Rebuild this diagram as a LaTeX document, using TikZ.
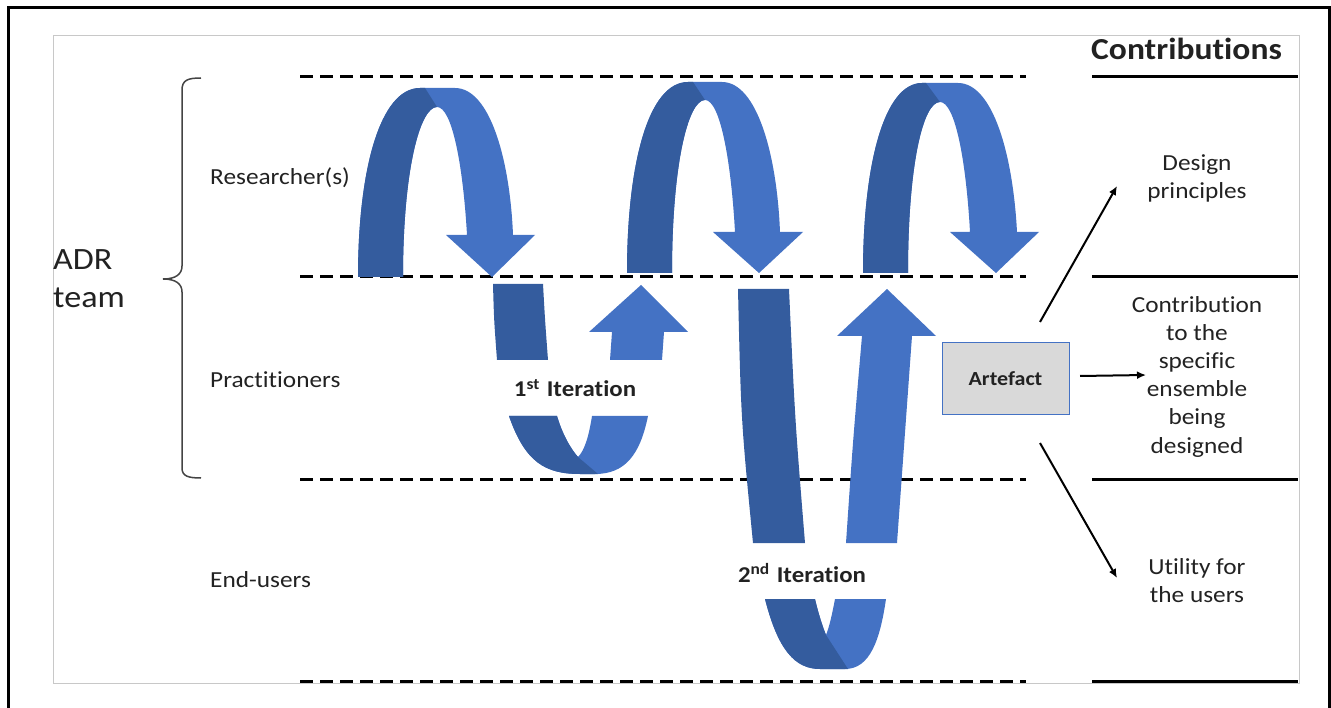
\documentclass[tikz,border=0pt]{standalone}
\usepackage{fontspec}
\setmainfont{Carlito}[FakeStretch=1.1, Ligatures=NoCommon]
\usetikzlibrary{arrows.meta}
\definecolor{ribbonDark}{HTML}{345C9E}
\definecolor{ribbonLight}{HTML}{4472C4}
\definecolor{ink}{HTML}{222222}
\definecolor{frameGray}{HTML}{C8C8C8}
\definecolor{boxFill}{HTML}{D9D9D9}
\definecolor{braceGray}{HTML}{444444}

\begin{document}
\begin{tikzpicture}[x=1pt,y=-1pt,
  lane/.style={line width=3pt, dash pattern=on 13pt off 7pt},
  rule/.style={line width=3pt},
  lightband/.style={fill=ribbonLight},
  darkband/.style={fill=ribbonDark},
  rolelabel/.style={text=ink, inner sep=0pt, anchor=west, font=\fontsize{23}{27}\selectfont},
  outcome/.style={text=ink, inner sep=0pt, align=center, font=\fontsize{23}{28.2}\selectfont},
  iterlabel/.style={text=ink, inner sep=0pt, font=\bfseries\fontsize{22.6}{26}\selectfont},
  pointer/.style={line width=2pt, -{Latex[length=9pt,width=8pt]}}
]
\useasboundingbox (0,0) rectangle (1331,708);

% outer frame (open at the bottom) and inner panel
\draw[line width=3pt] (8,712) -- (8,8) -- (1329,8) -- (1329,712);
\draw[frameGray, line width=1pt] (53,36) rectangle (1299,683);

% swim-lane separators
\foreach \y in {77,277,479,681} {
  \draw[lane] (300,\y) -- (1026,\y);
  \draw[rule] (1092,\y) -- (1298,\y);
}

% brace grouping the ADR team
\draw[braceGray, line width=1.5pt]
  (201,78) .. controls (188,78) and (182,80) .. (182,90) -- (182,266)
  .. controls (182,274) and (176,279) .. (163,279)
  .. controls (176,279) and (182,284) .. (182,292) -- (182,468)
  .. controls (182,476) and (188,478) .. (201,478);

% labels on the left
\node[text=ink, inner sep=0pt, anchor=west, align=left, font=\fontsize{31}{38}\selectfont] (team) at (53,279) {ADR\\team};
\node[rolelabel] (res) at (210,178) {Researcher(s)};
\node[rolelabel] (pra) at (210,380) {Practitioners};
\node[rolelabel] (end) at (210,580) {End-users};

% ---- researcher loops ----
% loop 1
\fill[lightband] (358,277) .. controls (358,170) and (380,88) .. (420,88) -- (455,88)
  .. controls (490,88) and (510,160) .. (513,235) -- (535,235) -- (492,277) -- (446,235) -- (467,235)
  .. controls (463,165) and (452,107) .. (437,107)
  .. controls (420,107) and (403,170) .. (403,277) -- cycle;
\fill[darkband] (358,277) .. controls (358,170) and (380,88) .. (420,88) -- (425,88) -- (437,107)
  .. controls (420,107) and (403,170) .. (403,277) -- cycle;
% loop 2
\fill[lightband] (627,273) .. controls (627,165) and (648,82) .. (688,82) -- (722,82)
  .. controls (757,82) and (777,155) .. (780,232) -- (803,232) -- (759,273) -- (713,232) -- (735,232)
  .. controls (731,160) and (720,100) .. (705,100)
  .. controls (688,100) and (672,165) .. (672,273) -- cycle;
\fill[darkband] (627,273) .. controls (627,165) and (648,82) .. (688,82) -- (693,82) -- (705,100)
  .. controls (688,100) and (672,165) .. (672,273) -- cycle;
% loop 3
\fill[lightband] (863,273) .. controls (863,165) and (884,83) .. (922,83) -- (958,83)
  .. controls (993,83) and (1013,155) .. (1017,232) -- (1039,232) -- (996,273) -- (950,232) -- (970,232)
  .. controls (966,160) and (955,102) .. (940,102)
  .. controls (923,102) and (908,165) .. (908,273) -- cycle;
\fill[darkband] (863,273) .. controls (863,165) and (884,83) .. (922,83) -- (926,83) -- (940,102)
  .. controls (923,102) and (908,165) .. (908,273) -- cycle;

% ---- first iteration (practitioners) ----
\fill[darkband] (493,284) -- (543,284) .. controls (545,320) .. (548,360) -- (497,360) .. controls (494,320) .. (493,284) -- cycle;
\fill[lightband] (610,360) -- (612,332) -- (589,332) -- (641,285) -- (688,332) -- (664,332) -- (662,360) -- cycle;
\fill[lightband] (509,416) .. controls (525,462) and (545,474) .. (580,474) -- (595,474)
  .. controls (625,474) and (640,455) .. (648,416) -- (592,416)
  .. controls (589,435) and (585,450) .. (578,457)
  .. controls (570,448) and (562,433) .. (557,416) -- cycle;
\fill[darkband] (509,416) .. controls (525,462) and (545,474) .. (580,474) -- (598,474) -- (578,457)
  .. controls (570,448) and (562,433) .. (557,416) -- cycle;
\node[iterlabel] (it1) at (575,388) {1\textsuperscript{st}\hspace{7pt}Iteration};

% ---- second iteration (practitioners and end-users) ----
\fill[darkband] (738,289) -- (789,289) .. controls (795,420) .. (805,543) -- (753,543) .. controls (741,420) .. (738,289) -- cycle;
\fill[lightband] (846,543) .. controls (853,440) .. (862,336) -- (837,336) -- (887,289) -- (936,336) -- (912,336)
  .. controls (905,440) .. (897,543) -- cycle;
\fill[lightband] (765,599) .. controls (778,650) and (795,669) .. (820,669) -- (845,669)
  .. controls (870,669) and (880,640) .. (886,599) -- (835,599)
  .. controls (832,615) and (829,628) .. (826,635)
  .. controls (822,625) and (818,612) .. (815,599) -- cycle;
\fill[darkband] (765,599) .. controls (778,650) and (795,669) .. (820,669) -- (848,669) -- (826,635)
  .. controls (822,625) and (818,612) .. (815,599) -- cycle;
\node[iterlabel] (it2) at (802,573) {2\textsuperscript{nd}\hspace{7pt}Iteration};

% ---- contributions column ----
\node[text=ink, inner sep=0pt, anchor=west, font=\bfseries\fontsize{30.5}{36}\selectfont] (contrib) at (1091,49) {Contributions};
\node[outcome] (design) at (1197,178.5) {Design\\principles};
\node[outcome] (ensemble) at (1197,376.5) {Contribution\\to the\\specific\\ensemble\\being\\designed};
\node[outcome] (utility) at (1197,580.5) {Utility for\\the users};

\node[draw=ribbonLight, line width=1pt, fill=boxFill, minimum width=127pt, minimum height=72pt, inner sep=0pt,
      text=ink, font=\bfseries\fontsize{20}{23}\selectfont] (art) at (1005.5,378.5) {Artefact};

\coordinate (upTail) at (1040,322);
\coordinate (upHead) at (1117,186);
\coordinate (midTail) at (1080,376);
\coordinate (midHead) at (1146,375);
\coordinate (lowTail) at (1040,443);
\coordinate (lowHead) at (1117,578);
\draw[pointer] (upTail) -- (upHead);
\draw[pointer] (midTail) -- (midHead);
\draw[pointer] (lowTail) -- (lowHead);
\end{tikzpicture}
\end{document}
